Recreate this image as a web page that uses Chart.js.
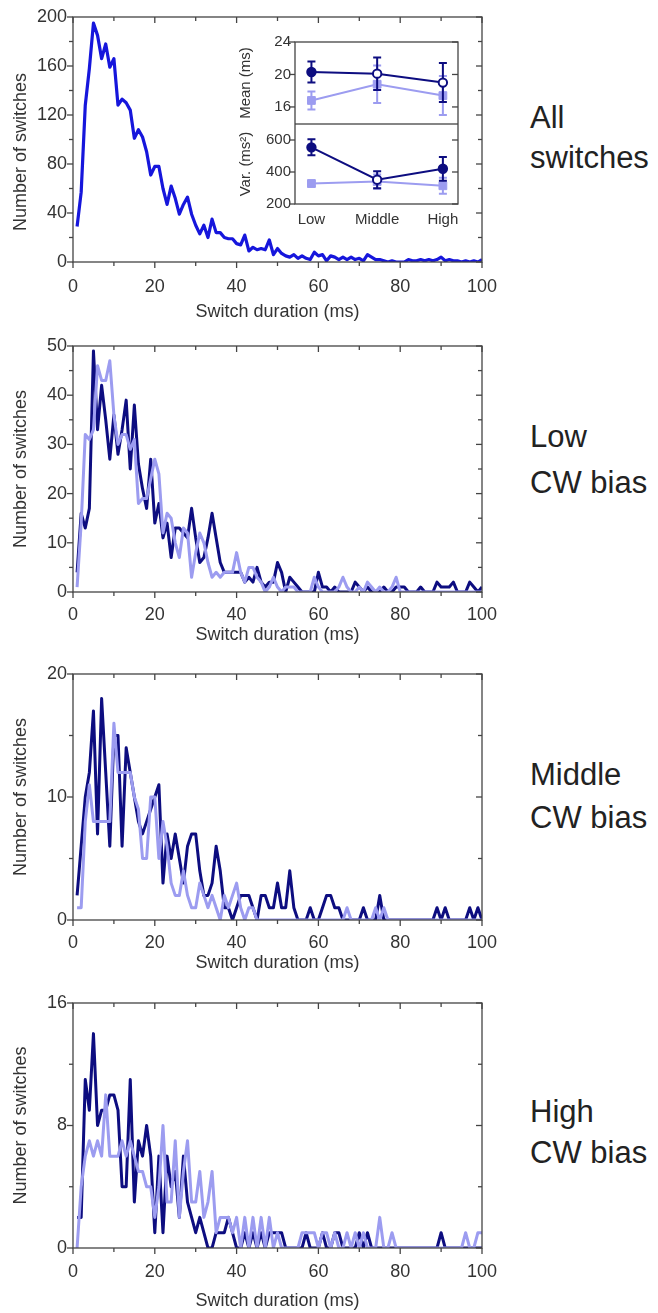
<!DOCTYPE html>
<html><head><meta charset="utf-8">
<script src="https://cdn.jsdelivr.net/npm/chart.js@4.4.1/dist/chart.umd.min.js"></script>
<style>
html,body{margin:0;padding:0;background:#fff;}
#wrap{position:relative;width:658px;height:1313px;overflow:hidden;background:#fff;}
canvas{position:absolute;}
.lab{position:absolute;left:530px;font-family:'Liberation Sans',Arial,sans-serif;font-size:31px;line-height:34px;color:#222;white-space:nowrap;}
</style></head>
<body><div id="wrap">
<canvas id="p1" width="500" height="330" style="left:0;top:0"></canvas>
<canvas id="p2" width="500" height="318" style="left:0;top:330px"></canvas>
<canvas id="p3" width="500" height="316" style="left:0;top:660px"></canvas>
<canvas id="p4" width="500" height="333" style="left:0;top:980px"></canvas>
<canvas id="i1" width="240" height="94" style="left:225px;top:30px"></canvas>
<canvas id="i2" width="240" height="110" style="left:225px;top:124px"></canvas>
<div class="lab" style="top:101px">All</div>
<div class="lab" style="top:141px">switches</div>
<div class="lab" style="top:420px">Low</div>
<div class="lab" style="top:466px">CW bias</div>
<div class="lab" style="top:758px">Middle</div>
<div class="lab" style="top:801px">CW bias</div>
<div class="lab" style="top:1095px">High</div>
<div class="lab" style="top:1136px">CW bias</div>
</div>
<script>
// ---------- data ----------
const durations = [1,2,3,4,5,6,7,8,9,10,11,12,13,14,15,16,17,18,19,20,21,22,23,24,25,26,27,28,29,30,31,32,33,34,35,36,37,38,39,40,41,42,43,44,45,46,47,48,49,50,51,52,53,54,55,56,57,58,59,60,61,62,63,64,65,66,67,68,69,70,71,72,73,74,75,76,77,78,79,80,81,82,83,84,85,86,87,88,89,90,91,92,93,94,95,96,97,98,99,100];

const allCounts = [29,57,128,158,195,185,166,178,159,166,128,133,130,124,101,108,102,90,71,78,78,60,47,62,52,39,47,53,39,30,23,30,20,35,24,24,20,19,19,15,14,22,9,12,10,11,10,18,6,11,7,5,4,6,3,5,3,2,8,5,6,1,5,4,2,4,2,4,2,3,1,6,4,2,2,1,0,1,0,0,0,2,1,1,2,1,2,1,2,4,1,2,1,1,0,1,0,1,0,2];

const lowDark = [4,16,13,17,49,33,42,35,27,36,28,33,39,25,38,26,21,17,27,14,18,11,14,7,13,13,12,11,17,11,6,7,11,16,11,6,4,4,4,4,4,2,3,2,5,2,1,2,2,6,4,0,3,2,1,0,0,0,0,4,1,1,0,1,0,0,0,0,2,1,0,1,0,0,0,1,0,0,1,1,1,0,0,0,1,0,0,0,2,1,1,1,2,0,0,0,2,1,0,1];
const lowLight = [1,14,32,31,33,46,43,43,47,36,30,32,32,29,31,18,19,19,23,27,24,12,16,15,10,7,13,12,3,8,12,10,6,3,4,3,4,4,4,8,4,2,5,5,3,2,0,1,3,1,0,1,1,1,0,0,0,0,3,1,0,0,0,0,1,3,1,0,0,1,0,2,1,0,1,0,0,1,3,0,0,0,0,0,0,0,0,0,0,0,0,0,0,0,0,0,0,0,0,0];

const middleDark = [2,6,10,12,17,7,18,12,6,15,15,6,14,12,10,8,7,8,9,10,11,3,7,5,7,5,3,6,7,7,4,2,2,3,6,4,1,1,0,1,2,2,2,1,0,2,2,1,1,3,1,1,4,1,0,0,0,1,0,0,1,2,2,1,1,0,0,0,0,0,1,0,0,0,2,0,0,0,0,0,0,0,0,0,0,0,0,0,1,0,1,0,0,0,0,0,1,0,1,0];
const middleLight = [1,1,8,11,8,8,8,8,8,16,12,12,12,12,10,9,5,5,10,10,5,8,6,3,2,2,4,2,1,1,3,2,1,2,1,0,2,1,2,3,1,0,1,1,0,0,0,0,0,0,0,0,0,0,0,0,0,0,0,0,0,0,0,0,0,0,1,0,0,0,0,0,0,1,0,1,0,0,0,0,0,0,0,0,0,0,0,0,0,0,0,0,0,0,0,0,0,0,0,0];

const highDark = [2,2,11,9,14,8,9,9,10,10,9,4,4,11,3,7,6,8,6,1,6,1,6,4,5,2,6,3,2,1,2,1,0,0,1,1,1,2,1,0,0,1,0,1,0,1,0,1,1,1,1,0,0,0,0,0,1,0,0,0,1,0,0,1,1,0,0,0,0,1,0,1,0,0,0,0,0,0,0,0,0,0,0,0,0,0,0,0,0,1,0,0,0,0,0,0,0,0,0,0];
const highLight = [0,4,6,7,6,7,6,10,6,6,6,7,6,7,6,5,5,4,4,2,4,8,3,3,7,2,5,7,3,3,5,2,3,5,1,2,2,2,1,2,0,2,0,2,0,2,0,2,0,1,0,0,0,0,0,1,1,1,1,0,1,1,0,1,0,0,1,0,1,0,1,0,0,0,2,0,0,1,0,0,0,0,0,0,0,0,0,0,0,0,0,0,0,0,0,1,0,0,1,1];

const xTicks = [0,20,40,60,80,100];
const yTicksAll = [0,40,80,120,160,200];
const yTicksLow = [0,10,20,30,40,50];
const yTicksMiddle = [0,10,20];
const yTicksHigh = [0,8,16];

// inset
const insetCats = ['Low','Middle','High'];
const meanDark = [20.3,20.1,19.0];
const meanDarkErr = [1.3,2.0,2.4];
const meanLight = [16.8,18.8,17.4];
const meanLightErr = [1.1,2.3,2.4];
const varDark = [554,352,420];
const varDarkErr = [50,53,74];
const varLight = [328,340,314];
const varLightErr = [18,45,50];
const meanTicks = [16,20,24];
const varTicks = [200,400,600];

// ---------- styling ----------
const FONT = "'Liberation Sans', Arial, sans-serif";
Chart.defaults.font.family = FONT;
Chart.defaults.color = '#333';
const C_ALL = '#1616dc';
const C_DARK = '#0d0d80';
const C_LIGHT = '#9c9cf0';
const C_FRAME = '#444';

const framePlugin = {
  id: 'frame',
  afterDraw(chart, args, o) {
    const {ctx, chartArea: a} = chart;
    const xs = chart.scales.x, ys = chart.scales.y;
    ctx.save();
    ctx.strokeStyle = C_FRAME;
    ctx.lineWidth = 1.3;
    ctx.strokeRect(a.left, a.top, a.right - a.left, a.bottom - a.top);
    const seg = (x1,y1,x2,y2)=>{ctx.beginPath();ctx.moveTo(x1,y1);ctx.lineTo(x2,y2);ctx.stroke();};
    const isMaj = (v,m)=>Math.abs(v/m - Math.round(v/m)) < 1e-6;
    if (o.xMinor) {
      for (let v = xs.min; v <= xs.max + 1e-9; v += o.xMinor) {
        const p = xs.getPixelForValue(v);
        const L = isMaj(v, o.xMajor) ? 6 : 4;
        seg(p, a.bottom, p, a.bottom + L);
        seg(p, a.top, p, a.top + L);
      }
    }
    if (o.yMinor) {
      const start = o.yStart !== undefined ? o.yStart : ys.min;
      for (let v = start; v <= ys.max + 1e-9; v += o.yMinor) {
        const p = ys.getPixelForValue(v);
        const L = isMaj(v, o.yMajor) ? 6 : 4;
        seg(a.left - L, p, a.left, p);
        seg(a.right - L, p, a.right, p);
      }
    }
    ctx.restore();
  }
};

const errorBarPlugin = {
  id: 'errbars',
  beforeDatasetDraw(chart, args) {
    const ds = chart.data.datasets[args.index];
    if (!ds.errors) return;
    const {ctx} = chart;
    const xs = chart.scales.x, ys = chart.scales.y;
    ctx.save();
    ctx.strokeStyle = ds.borderColor;
    ctx.lineWidth = 2;
    ds.data.forEach((pt, j) => {
      const px = xs.getPixelForValue(pt.x);
      const t = ys.getPixelForValue(pt.y + ds.errors[j]);
      const b = ys.getPixelForValue(pt.y - ds.errors[j]);
      ctx.beginPath();
      ctx.moveTo(px, t); ctx.lineTo(px, b);
      ctx.moveTo(px - 4, t); ctx.lineTo(px + 4, t);
      ctx.moveTo(px - 4, b); ctx.lineTo(px + 4, b);
      ctx.stroke();
    });
    ctx.restore();
  }
};

const toXY = (vals) => durations.map((d, i) => ({x: d, y: vals[i]}));

function makePanel(id, series, yTicks, yMinor, L) {
  const yMax = yTicks[yTicks.length - 1];
  const yMajor = yTicks[1] - yTicks[0];
  new Chart(document.getElementById(id), {
    type: 'line',
    data: { datasets: series.map(s => ({
      data: toXY(s.vals), borderColor: s.color, borderWidth: s.w || 3,
      pointRadius: 0, tension: 0, fill: false, borderJoinStyle: 'round', order: s.order || 0
    })) },
    options: {
      responsive: false, animation: false,
      layout: { autoPadding: false, padding: { top: L.padTop, right: 18, left: 0, bottom: 0 } },
      plugins: { legend: {display: false}, tooltip: {enabled: false}, frame: {xMajor: 20, xMinor: 10, yMajor: yMajor, yMinor: yMinor} },
      scales: {
        x: {
          type: 'linear', min: 0, max: 100,
          grid: {display: false, drawTicks: false}, border: {display: false},
          afterBuildTicks: s => { s.ticks = xTicks.map(v => ({value: v})); },
          ticks: {font: {size: 18}, padding: L.tickPad, color: '#333', maxRotation: 0},
          title: {display: true, text: 'Switch duration (ms)', font: {size: 18}, color: '#333', padding: {top: 0, bottom: L.titlePad}},
          afterFit: s => { s.height = L.xH; s.paddingLeft = 0; s.paddingRight = 0; }
        },
        y: {
          type: 'linear', min: 0, max: yMax,
          grid: {display: false, drawTicks: false}, border: {display: false},
          afterBuildTicks: s => { s.ticks = yTicks.map(v => ({value: v})); },
          ticks: {font: {size: 18}, padding: 6, color: '#333'},
          title: {display: true, text: L.yTitle || 'Number of switches', font: {size: 18}, color: '#333', padding: {top: 10, bottom: 0}},
          afterFit: s => { s.width = 73; s.paddingTop = 0; s.paddingBottom = 0; }
        }
      }
    },
    plugins: [framePlugin]
  });
}

makePanel('p1', [{vals: allCounts, color: C_ALL, w: 3.2}], yTicksAll, 20, {padTop: 17, xH: 68, tickPad: 14, titlePad: 7, yTitle: 'Number of switches     '});
makePanel('p2', [{vals: lowLight, color: C_LIGHT, order: 0}, {vals: lowDark, color: C_DARK, order: 1}], yTicksLow, 5, {padTop: 16, xH: 56, tickPad: 12, titlePad: 2});
makePanel('p3', [{vals: middleLight, color: C_LIGHT, order: 0}, {vals: middleDark, color: C_DARK, order: 1}], yTicksMiddle, 5, {padTop: 14, xH: 56, tickPad: 12, titlePad: 2});
makePanel('p4', [{vals: highLight, color: C_LIGHT, order: 0}, {vals: highDark, color: C_DARK, order: 1}], yTicksHigh, 4, {padTop: 23, xH: 65, tickPad: 13, titlePad: 1});

function makeInset(id, dark, darkErr, darkFill, light, lightErr, yMin, yMax, yTicks, title, showX, L) {
  const idx = insetCats.map((c, i) => i);
  new Chart(document.getElementById(id), {
    type: 'line',
    data: { datasets: [
      { data: idx.map(i => ({x: i, y: dark[i]})), errors: darkErr, borderColor: C_DARK, borderWidth: 2,
        pointStyle: 'circle', pointRadius: 4.2, pointBorderWidth: 2, pointBorderColor: C_DARK,
        pointBackgroundColor: darkFill.map(f => f ? C_DARK : '#ffffff'), tension: 0, order: 0, clip: false },
      { data: idx.map(i => ({x: i, y: light[i]})), errors: lightErr, borderColor: C_LIGHT, borderWidth: 2,
        pointStyle: 'rect', pointRadius: 5.5, pointBorderWidth: 1, pointBorderColor: C_LIGHT,
        pointBackgroundColor: C_LIGHT, tension: 0, order: 1, clip: false }
    ] },
    options: {
      responsive: false, animation: false,
      layout: { autoPadding: false, padding: { top: L.padTop, right: 7, left: 0, bottom: 0 } },
      plugins: { legend: {display: false}, tooltip: {enabled: false}, frame: {yMajor: yTicks[1]-yTicks[0], yMinor: yTicks[1]-yTicks[0], yStart: yTicks[0]} },
      scales: {
        x: {
          type: 'linear', min: -0.25, max: 2.23, display: showX,
          grid: {display: false, drawTicks: false}, border: {display: false},
          afterBuildTicks: s => { s.ticks = idx.map(v => ({value: v})); },
          ticks: {font: {size: 15}, padding: 7, color: '#333', maxRotation: 0, callback: v => insetCats[v]},
          afterFit: s => { s.height = L.xH; s.paddingLeft = 0; s.paddingRight = 0; }
        },
        y: {
          type: 'linear', min: yMin, max: yMax,
          grid: {display: false, drawTicks: false}, border: {display: false},
          afterBuildTicks: s => { s.ticks = yTicks.map(v => ({value: v})); },
          ticks: {font: {size: 15}, padding: 4, color: '#333'},
          title: {display: true, text: title, font: {size: 15}, color: '#333', padding: {top: 12, bottom: 0}},
          afterFit: s => { s.width = 70; s.paddingTop = 0; s.paddingBottom = 0; }
        }
      }
    },
    plugins: [framePlugin, errorBarPlugin]
  });
}

makeInset('i1', meanDark, meanDarkErr, [true, false, false], meanLight, meanLightErr, 13.9, 24, meanTicks, 'Mean (ms)', false, {padTop: 12, xH: 0});
makeInset('i2', varDark, varDarkErr, [true, false, true], varLight, varLightErr, 200, 700, varTicks, 'Var. (ms\u00B2)', true, {padTop: 0, xH: 30});
</script>
</body></html>
